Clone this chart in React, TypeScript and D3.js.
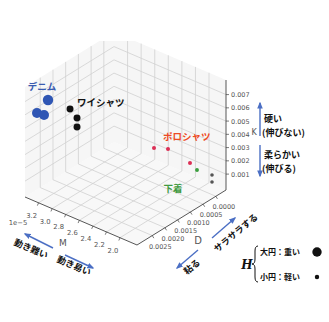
import React from "react";
import * as d3 from "d3";

// ---- data ----
const GROUPS = ["デニム", "ワイシャツ", "ポロシャツ", "下着", "その他"];
const POINT_GROUP = [0, 0, 0, 1, 1, 1, 2, 2, 2, 3, 4, 4];
const M_VALUES = [3.136, 3.261, 3.157, 2.924, 2.821, 2.821, 2.211, 2.005, 1.943, 1.915, 1.769, 1.769]; // ×1e-5
const D_VALUES = [0.0029, 0.003, 0.003, 0.0026, 0.0026, 0.0026, 0.0012, 0.0012, 0.0005, 0.0003, 0.0001, 0.0001];
const K_VALUES = [0.00746, 0.00632, 0.0064, 0.00689, 0.00644, 0.00576, 0.00385, 0.00423, 0.00248, 0.00178, 0.00148, 0.00095];
const H_VALUES = [1.0, 0.92, 0.92, 0.45, 0.45, 0.45, 0.15, 0.15, 0.15, 0.14, 0.12, 0.12];

const M_TICKS = [2.0, 2.2, 2.4, 2.6, 2.8, 3.0, 3.2];
const D_TICKS = [0, 0.0005, 0.001, 0.0015, 0.002, 0.0025];
const K_TICKS = [0.001, 0.002, 0.003, 0.004, 0.005, 0.006, 0.007];
const M_DOMAIN = [1.75, 3.4];
const D_DOMAIN = [-0.0004, 0.0031];
const K_DOMAIN = [-0.0002, 0.0081];

const GROUP_COLORS = ["#2f56b4", "#111111", "#dc2f55", "#3a9f3e", "#555555"];
const LABEL_COLORS = ["#3a5bb0", "#111111", "#ee4a24", "#3f9a3f", "#555"];

// ---- projection geometry ----
const F = [137, 245]; // front floor corner (M min, D max)
const L = [25, 197]; // left floor corner (M max, D max)
const R = [226, 190]; // right floor corner (M min, D min)
const HEIGHT = 110;

const uS = d3.scaleLinear().domain(M_DOMAIN).range([0, 1]);
const vS = d3.scaleLinear().domain([D_DOMAIN[1], D_DOMAIN[0]]).range([0, 1]);
const wS = d3.scaleLinear().domain(K_DOMAIN).range([0, 1]);
const rS = d3.scaleSqrt().domain([0, 1]).range([0, 5.2]);

function projUVW(u: number, v: number, w: number): [number, number] {
  return [
    F[0] + u * (L[0] - F[0]) + v * (R[0] - F[0]),
    F[1] + u * (L[1] - F[1]) + v * (R[1] - F[1]) - w * HEIGHT,
  ];
}
function proj(m: number, d: number, k: number) {
  return projUVW(uS(m), vS(d), wS(k));
}
const pts = (arr: [number, number][]) => arr.map((p) => p.join(",")).join(" ");

export default function App() {
  const gridColor = "#d0d0d0";
  const grid: JSX.Element[] = [];
  // floor
  M_TICKS.forEach((m, i) => {
    const a = projUVW(uS(m), 0, 0), b = projUVW(uS(m), 1, 0);
    grid.push(<line key={"fm" + i} x1={a[0]} y1={a[1]} x2={b[0]} y2={b[1]} />);
  });
  D_TICKS.forEach((d, i) => {
    const a = projUVW(0, vS(d), 0), b = projUVW(1, vS(d), 0);
    grid.push(<line key={"fd" + i} x1={a[0]} y1={a[1]} x2={b[0]} y2={b[1]} />);
  });
  // left pane (M max)
  D_TICKS.forEach((d, i) => {
    const a = projUVW(1, vS(d), 0), b = projUVW(1, vS(d), 1);
    grid.push(<line key={"ld" + i} x1={a[0]} y1={a[1]} x2={b[0]} y2={b[1]} />);
  });
  K_TICKS.forEach((k, i) => {
    const a = projUVW(1, 0, wS(k)), b = projUVW(1, 1, wS(k));
    grid.push(<line key={"lk" + i} x1={a[0]} y1={a[1]} x2={b[0]} y2={b[1]} />);
  });
  // right pane (D min)
  M_TICKS.forEach((m, i) => {
    const a = projUVW(uS(m), 1, 0), b = projUVW(uS(m), 1, 1);
    grid.push(<line key={"rm" + i} x1={a[0]} y1={a[1]} x2={b[0]} y2={b[1]} />);
  });
  K_TICKS.forEach((k, i) => {
    const a = projUVW(0, 1, wS(k)), b = projUVW(1, 1, wS(k));
    grid.push(<line key={"rk" + i} x1={a[0]} y1={a[1]} x2={b[0]} y2={b[1]} />);
  });

  const floor = [projUVW(0, 0, 0), projUVW(1, 0, 0), projUVW(1, 1, 0), projUVW(0, 1, 0)];
  const leftPane = [projUVW(1, 0, 0), projUVW(1, 1, 0), projUVW(1, 1, 1), projUVW(1, 0, 1)];
  const rightPane = [projUVW(1, 1, 0), projUVW(0, 1, 0), projUVW(0, 1, 1), projUVW(1, 1, 1)];

  const order = d3.range(M_VALUES.length).sort(
    (a, b) => vS(D_VALUES[b]) - vS(D_VALUES[a])
  );

  const axisC = "#444";
  const tickFont = "DejaVu Sans, sans-serif";
  const jp = "'Noto Sans CJK JP', sans-serif";
  const blue = "#4b6fc4";

  const mAxisA = projUVW(1, 0, 0), mAxisB = projUVW(0, 0, 0);
  const dAxisB = projUVW(0, 1, 0);
  const kAxisA = projUVW(0, 1, 0), kAxisB = projUVW(0, 1, 1);

  return (
    <svg width={329} height={322} style={{ position: "absolute", left: 0, top: 0, background: "#fff" }}>
      <defs>
        <clipPath id="clipTop">
          <rect x={0} y={41} width={329} height={281} />
        </clipPath>
        <marker id="ah" viewBox="0 0 10 10" refX={8} refY={5} markerWidth={5} markerHeight={5} orient="auto-start-reverse">
          <path d="M0,1 L10,5 L0,9 z" fill={blue} />
        </marker>
      </defs>
      <g clipPath="url(#clipTop)">
        <polygon points={pts(floor)} fill="#f8f8f8" />
        <polygon points={pts(leftPane)} fill="#f6f6f6" />
        <polygon points={pts(rightPane)} fill="#f6f6f6" />
        <g stroke={gridColor} strokeWidth={0.8}>{grid}</g>
      </g>
      {/* axis lines */}
      <line x1={mAxisA[0]} y1={mAxisA[1]} x2={mAxisB[0]} y2={mAxisB[1]} stroke={axisC} strokeWidth={0.9} />
      <line x1={mAxisB[0]} y1={mAxisB[1]} x2={dAxisB[0]} y2={dAxisB[1]} stroke={axisC} strokeWidth={0.9} />
      <line x1={kAxisA[0]} y1={kAxisA[1]} x2={kAxisB[0]} y2={kAxisB[1]} stroke={axisC} strokeWidth={0.9} />
      {/* M ticks */}
      {M_TICKS.map((m, i) => {
        const p = proj(m, D_DOMAIN[1], K_DOMAIN[0]);
        return (
          <g key={"mt" + i}>
            <line x1={p[0]} y1={p[1]} x2={p[0] - 1.2} y2={p[1] + 2.8} stroke={axisC} strokeWidth={0.7} />
            <text x={p[0] - 7} y={p[1] + 15} fontSize={6.8} fill="#555" textAnchor="middle" fontFamily={tickFont}>
              {m.toFixed(1)}
            </text>
          </g>
        );
      })}
      <text x={18} y={225} fontSize={6.8} fill="#555" textAnchor="middle" fontFamily={tickFont}>1e−5</text>
      <text x={63} y={246} fontSize={9} fill="#555" textAnchor="middle" fontFamily={tickFont}>M</text>
      {/* D ticks */}
      {D_TICKS.map((d, i) => {
        const p = proj(M_DOMAIN[0], d, K_DOMAIN[0]);
        return (
          <g key={"dt" + i}>
            <line x1={p[0]} y1={p[1]} x2={p[0] + 1.6} y2={p[1] + 2.6} stroke={axisC} strokeWidth={0.7} />
            <text x={p[0] + 8} y={p[1] + 13} fontSize={6.5} fill="#555" textAnchor="middle" fontFamily={tickFont}>
              {d.toFixed(4)}
            </text>
          </g>
        );
      })}
      <text x={198} y={244} fontSize={10} fill="#555" textAnchor="middle" fontFamily={tickFont}>D</text>
      {/* K ticks */}
      {K_TICKS.map((k, i) => {
        const p = proj(M_DOMAIN[0], D_DOMAIN[0], k);
        return (
          <g key={"kt" + i}>
            <line x1={p[0]} y1={p[1]} x2={p[0] + 3} y2={p[1]} stroke={axisC} strokeWidth={0.7} />
            <text x={p[0] + 5} y={p[1] + 2.5} fontSize={6.5} fill="#555" fontFamily={tickFont}>
              {k.toFixed(3)}
            </text>
          </g>
        );
      })}
      <text x={254} y={135} fontSize={8} fill="#555" textAnchor="middle" fontFamily={tickFont}>K</text>

      {/* points */}
      {order.map((i) => {
        const p = proj(M_VALUES[i], D_VALUES[i], K_VALUES[i]);
        return <circle key={"p" + i} cx={p[0]} cy={p[1]} r={rS(H_VALUES[i])} fill={GROUP_COLORS[POINT_GROUP[i]]} />;
      })}

      {/* group labels */}
      <g fontFamily={jp} fontWeight={700} fontSize={9.5}>
        <text x={42} y={89.5} textAnchor="middle" fill={LABEL_COLORS[0]}>{GROUPS[0]}</text>
        <text x={77} y={105.5} fill={LABEL_COLORS[1]}>{GROUPS[1]}</text>
        <text x={163} y={139.5} fill={LABEL_COLORS[2]}>{GROUPS[2]}</text>
        <text x={173} y={192} textAnchor="middle" fill={LABEL_COLORS[3]}>{GROUPS[3]}</text>
      </g>

      {/* K annotation */}
      <line x1={260} y1={103} x2={260} y2={136} stroke={blue} strokeWidth={1.4} markerStart="url(#ah)" />
      <line x1={260} y1={145} x2={260} y2={176} stroke={blue} strokeWidth={1.4} markerEnd="url(#ah)" />
      <g fontFamily={jp} fontWeight={700} fontSize={9} fill="#111">
        <text x={264} y={122}>硬い</text>
        <text x={262} y={135.5}>(伸びない)</text>
        <text x={264} y={158}>柔らかい</text>
        <text x={262} y={171.5}>(伸びる)</text>
      </g>

      {/* M annotation */}
      <line x1={53} y1={248} x2={25} y2={234} stroke={blue} strokeWidth={1.4} markerEnd="url(#ah)" />
      <line x1={65} y1={255} x2={93} y2={268} stroke={blue} strokeWidth={1.4} markerEnd="url(#ah)" />
      <g fontFamily={jp} fontWeight={700} fontSize={9} fill="#111">
        <text x={31} y={252} textAnchor="middle" transform="rotate(23 31 249)">動き難い</text>
        <text x={74} y={269} textAnchor="middle" transform="rotate(23 74 266)">動き易い</text>
      </g>

      {/* D annotation */}
      <line x1={212} y1={238} x2={235} y2={218} stroke={blue} strokeWidth={1.4} markerEnd="url(#ah)" />
      <line x1={198} y1={250} x2={177} y2={268} stroke={blue} strokeWidth={1.4} markerEnd="url(#ah)" />
      <g fontFamily={jp} fontWeight={700} fontSize={9} fill="#111">
        <text x={236} y={236} textAnchor="middle" transform="rotate(-40 236 233)">サラサラする</text>
        <text x={192} y={270} textAnchor="middle" transform="rotate(-40 192 267)">粘る</text>
      </g>

      {/* H legend */}
      <text x={247} y={269} fontSize={12} fontStyle="italic" fontWeight={700} fontFamily="'DejaVu Serif', serif" textAnchor="middle" fill="#111">H</text>
      <path d="M258,246 Q255,246 255,251 L255,259 Q255,264 252,264 Q255,264 255,269 L255,277 Q255,282 258,282" fill="none" stroke="#111" strokeWidth={1} />
      <g fontFamily={jp} fontWeight={700} fontSize={8} fill="#111">
        <text x={260} y={255}>大円：重い</text>
        <text x={260} y={280}>小円：軽い</text>
      </g>
      <circle cx={317} cy={252} r={rS(H_VALUES[0]) * 0.9} fill="#111" />
      <circle cx={317} cy={277} r={rS(H_VALUES[7]) * 1.1} fill="#111" />
    </svg>
  );
}
